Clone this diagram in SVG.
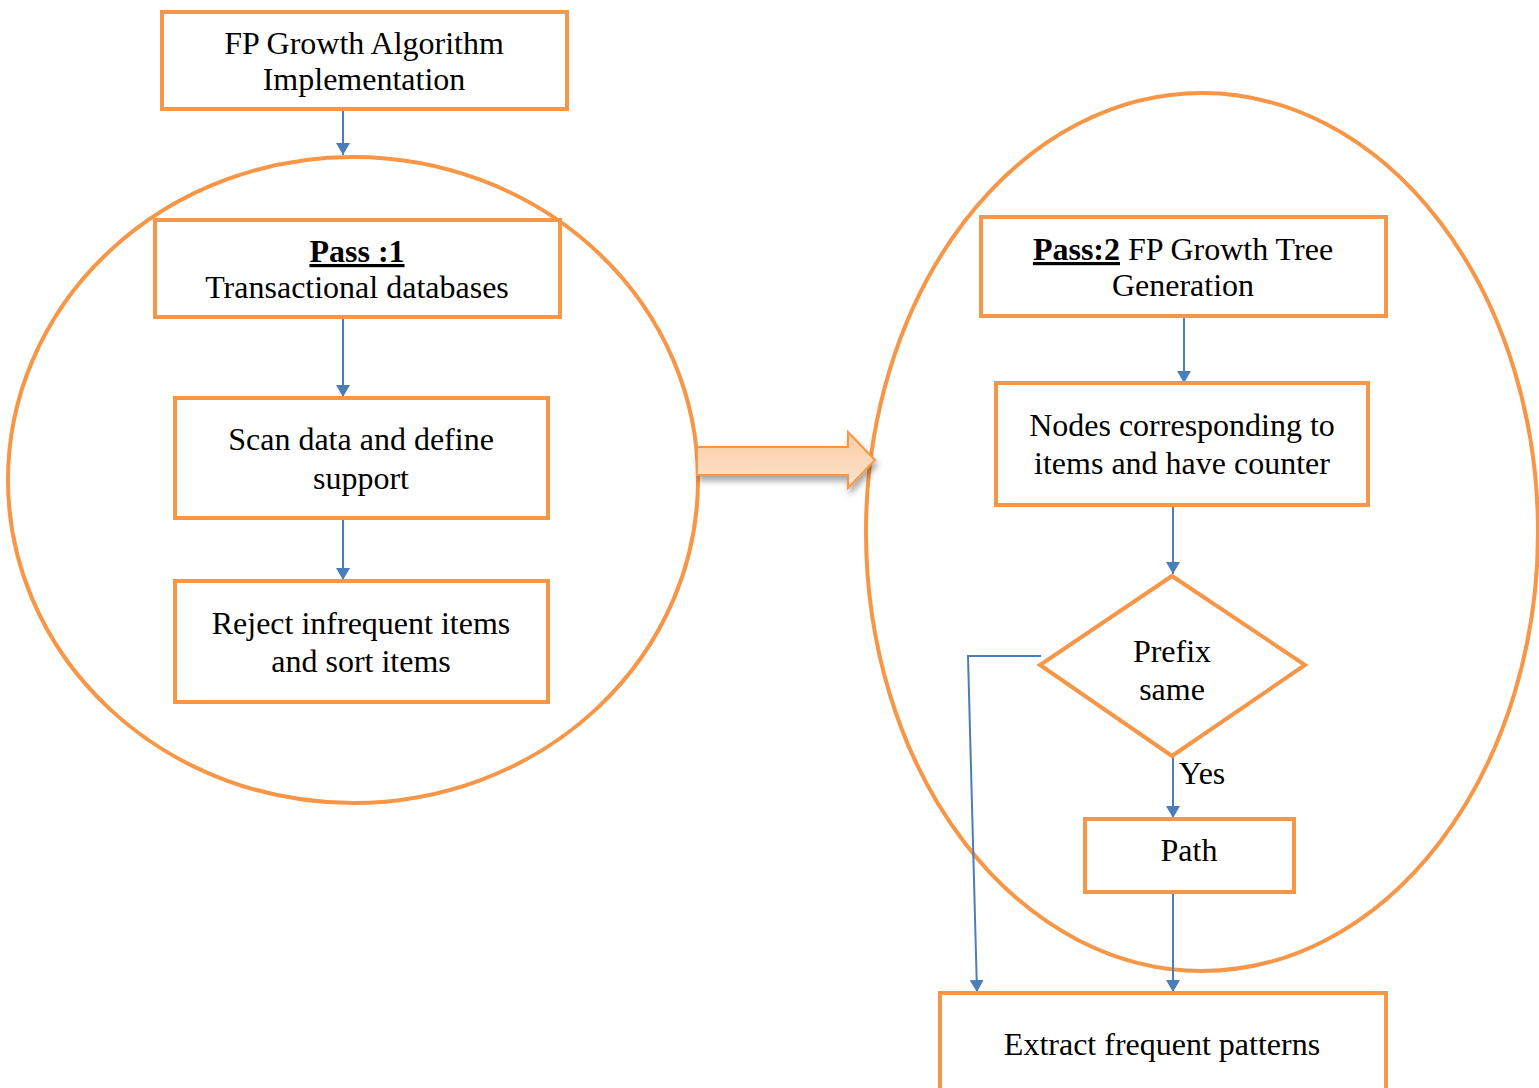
<svg xmlns="http://www.w3.org/2000/svg" width="1539" height="1088" viewBox="0 0 1539 1088">
<style>
.box{fill:#fff;stroke:#F79646;stroke-width:4}
.ell{fill:none;stroke:#F79646;stroke-width:4}
.t{font-size:32px;fill:#000;text-anchor:middle}
.b{font-weight:bold;text-decoration:underline}
.c{fill:none;stroke:#4A7EBB;stroke-width:2}
</style>
<defs>
<marker id="ah" viewBox="0 0 12 14" refX="12" refY="7" markerWidth="12" markerHeight="14" markerUnits="userSpaceOnUse" orient="auto">
<path d="M0,0 L12,7 L0,14 Z" fill="#4A7EBB"/>
</marker>
<linearGradient id="bg" x1="0" y1="0" x2="0" y2="1">
<stop offset="0" stop-color="#FBCBA0"/>
<stop offset="1" stop-color="#FDE5D2"/>
</linearGradient>
<filter id="sh" x="-10%" y="-30%" width="130%" height="180%">
<feGaussianBlur in="SourceAlpha" stdDeviation="3"/>
<feOffset dx="2" dy="5"/>
<feComponentTransfer><feFuncA type="linear" slope="0.35"/></feComponentTransfer>
<feMerge><feMergeNode/><feMergeNode in="SourceGraphic"/></feMerge>
</filter>
</defs>
<rect width="1539" height="1088" fill="#fff"/>

<g id="circle1"><ellipse class="ell" cx="353" cy="480" rx="345" ry="323"/></g>
<g id="circle2"><ellipse class="ell" cx="1202" cy="532" rx="336" ry="439"/></g>

<g id="connectors">
<line class="c" x1="343" y1="109" x2="343" y2="155" marker-end="url(#ah)"/>
<line class="c" x1="343" y1="317" x2="343" y2="397" marker-end="url(#ah)"/>
<line class="c" x1="343" y1="518" x2="343" y2="580" marker-end="url(#ah)"/>
<line class="c" x1="1184" y1="316" x2="1184" y2="383" marker-end="url(#ah)"/>
<line class="c" x1="1173" y1="505" x2="1173" y2="574" marker-end="url(#ah)"/>
<polyline class="c" points="1041,656 968,656 977,992" marker-end="url(#ah)"/>
<line class="c" x1="1173" y1="730" x2="1173" y2="818" marker-end="url(#ah)"/>
<line class="c" x1="1173" y1="892" x2="1173" y2="992" marker-end="url(#ah)"/>
<path d="M697,447 L848,447 L848,432 L875,460 L848,488 L848,475 L697,475 Z" fill="url(#bg)" stroke="#F79646" stroke-width="2" filter="url(#sh)"/>
</g>

<g font-family="Liberation Serif, Times New Roman, Tinos, DejaVu Serif, serif">
<g id="n-top">
<rect class="box" x="162" y="12" width="405" height="97"/>
<text class="t" x="364" y="54">FP Growth Algorithm</text>
<text class="t" x="364" y="90">Implementation</text>
</g>
<g id="n-pass1">
<rect class="box" x="155" y="220" width="405" height="97"/>
<text class="t b" x="357" y="262">Pass :1</text>
<text class="t" x="357" y="298">Transactional databases</text>
</g>
<g id="n-scan">
<rect class="box" x="175" y="398" width="373" height="120"/>
<text class="t" x="361" y="450">Scan data and define</text>
<text class="t" x="361" y="489">support</text>
</g>
<g id="n-reject">
<rect class="box" x="175" y="581" width="373" height="121"/>
<text class="t" x="361" y="634">Reject infrequent items</text>
<text class="t" x="361" y="672">and sort items</text>
</g>
<g id="n-pass2">
<rect class="box" x="981" y="217" width="405" height="99"/>
<text class="t" x="1183" y="260"><tspan class="b">Pass:2</tspan> FP Growth Tree</text>
<text class="t" x="1183" y="296">Generation</text>
</g>
<g id="n-nodes">
<rect class="box" x="996" y="383" width="372" height="122"/>
<text class="t" x="1182" y="436">Nodes corresponding to</text>
<text class="t" x="1182" y="474">items and have counter</text>
</g>
<g id="n-prefix">
<polygon class="box" points="1172,576 1305,665 1172,756 1040,665"/>
<text class="t" x="1172" y="662">Prefix</text>
<text class="t" x="1172" y="700">same</text>
</g>
<text class="t" x="1202" y="784">Yes</text>
<g id="n-path">
<rect class="box" x="1085" y="819" width="209" height="73"/>
<text class="t" x="1189" y="861">Path</text>
</g>
<g id="n-extract">
<rect class="box" x="940" y="993" width="446" height="120"/>
<text class="t" x="1162" y="1055">Extract frequent patterns</text>
</g>
</g>
</svg>
